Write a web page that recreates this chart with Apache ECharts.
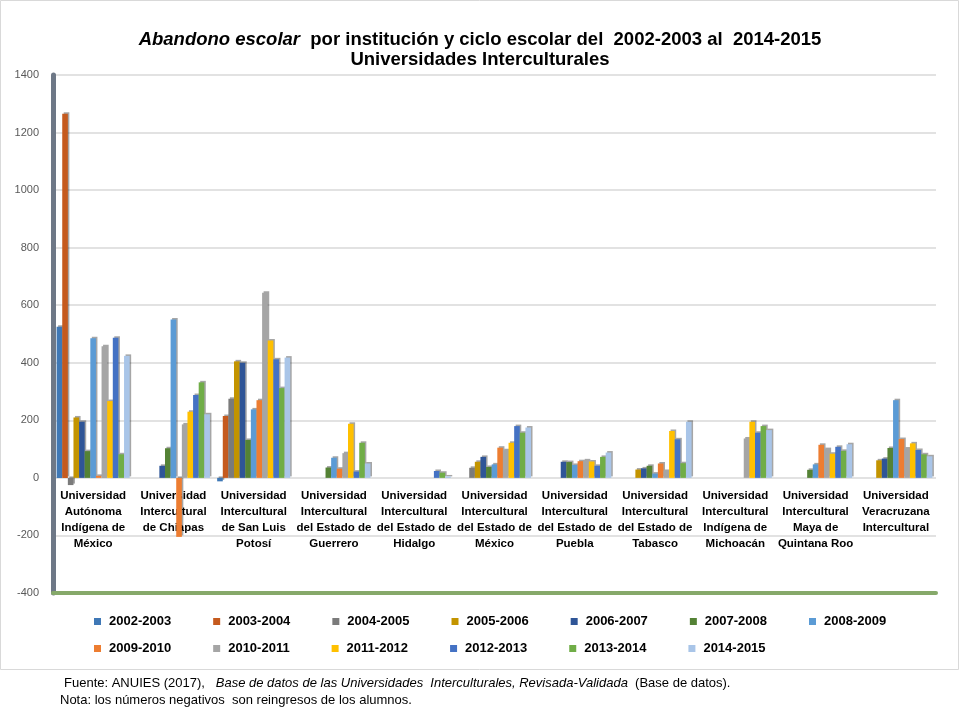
<!DOCTYPE html>
<html>
<head>
<meta charset="utf-8">
<script src="https://cdn.jsdelivr.net/npm/echarts@6/dist/echarts.min.js"></script>
<style>
html,body{margin:0;padding:0;background:#fff;}
#c{width:960px;height:720px;}
</style>
</head>
<body>
<div id="c"></div>
<script>
const categories = [
  'Universidad\nAutónoma\nIndígena de\nMéxico',
  'Universidad\nIntercultural\nde Chiapas',
  'Universidad\nIntercultural\nde San Luis\nPotosí',
  'Universidad\nIntercultural\ndel Estado de\nGuerrero',
  'Universidad\nIntercultural\ndel Estado de\nHidalgo',
  'Universidad\nIntercultural\ndel Estado de\nMéxico',
  'Universidad\nIntercultural\ndel Estado de\nPuebla',
  'Universidad\nIntercultural\ndel Estado de\nTabasco',
  'Universidad\nIntercultural\nIndígena de\nMichoacán',
  'Universidad\nIntercultural\nMaya de\nQuintana Roo',
  'Universidad\nVeracruzana\nIntercultural'
];
const seriesNames = ['2002-2003','2003-2004','2004-2005','2005-2006','2006-2007','2007-2008','2008-2009',
  '2009-2010','2010-2011','2011-2012','2012-2013','2013-2014','2014-2015'];
const s2002_2003 = [525, null, -12, null, null, null, null, null, null, null, null];
const s2003_2004 = [1265, null, 215, null, null, null, null, null, null, null, null];
const s2004_2005 = [-25, null, 275, null, null, 35, null, null, null, null, null];
const s2005_2006 = [210, null, 405, null, null, 56, null, 29, null, null, 61];
const s2006_2007 = [195, 42, 400, null, null, 73, 56, 33, null, null, 67];
const s2007_2008 = [93, 103, 132, 36, null, 38, 55, 42, null, 28, 104];
const s2008_2009 = [485, 550, 238, 70, null, 47, 45, 15, null, 47, 270];
const s2009_2010 = [7, -205, 270, 32, null, 105, 58, 50, null, 115, 135];
const s2010_2011 = [457, 186, 643, 86, null, 96, 61, 24, 137, 100, 102];
const s2011_2012 = [267, 230, 477, 188, null, 122, 57, 163, 195, 84, 120];
const s2012_2013 = [487, 288, 412, 22, 24, 180, 42, 134, 157, 108, 97];
const s2013_2014 = [82, 332, 312, 122, 18, 157, 73, 51, 180, 94, 82];
const s2014_2015 = [424, 221, 418, 50, 5, 175, 88, 195, 166, 117, 75];
const seriesValues = [s2002_2003, s2003_2004, s2004_2005, s2005_2006, s2006_2007, s2007_2008, s2008_2009,
  s2009_2010, s2010_2011, s2011_2012, s2012_2013, s2013_2014, s2014_2015];
const colors = ['#3f78b6','#c55a1e','#7b7b7b','#c39400','#2f5597','#548235','#5b9bd5',
  '#ed7d31','#a5a5a5','#ffc000','#4472c4','#70ad47','#a9c5e8'];
const yTicks = [-400, 1400, 200];

const FN = '"Liberation Sans Narrow", "Liberation Sans", Arial, sans-serif';
const chart = echarts.init(document.getElementById('c'), null, {renderer:'canvas'});

const series = seriesNames.map((n, i) => ({
  name: n,
  type: 'bar',
  data: seriesValues[i],
  barGap: '0%',
  barCategoryGap: '9%',
  itemStyle: {
    color: colors[i],
    shadowColor: 'rgba(0,0,0,0.35)',
    shadowOffsetX: 1.5,
    shadowOffsetY: -1.5,
    shadowBlur: 0
  },
  emphasis: {disabled: true}
}));

const legendCommon = {
  orient: 'horizontal',
  left: 89,
  itemWidth: 7,
  itemHeight: 7,
  itemGap: 42,
  icon: 'rect',
  selectedMode: false,
  textStyle: {fontFamily: FN, fontSize: 13, fontWeight: 'bold', color: '#000', padding: [0,0,0,3]}
};

chart.setOption({
  animation: false,
  backgroundColor: '#fff',
  color: colors,
  title: {
    left: 'center',
    top: 25,
    text: '{i|Abandono escolar}{n|  por institución y ciclo escolar del  2002-2003 al  2014-2015}\n{n|Universidades Interculturales}',
    textStyle: {
      rich: {
        i: {fontFamily: FN, fontSize: 18.5, fontWeight: 'bold', fontStyle: 'italic', color: '#000', lineHeight: 20},
        n: {fontFamily: FN, fontSize: 18.5, fontWeight: 'bold', color: '#000', lineHeight: 20}
      }
    }
  },
  legend: [
    Object.assign({}, legendCommon, {top: 610, data: seriesNames.slice(0, 7)}),
    Object.assign({}, legendCommon, {top: 637, data: seriesNames.slice(7)})
  ],
  grid: {left: 53, right: 24, top: 75, bottom: 127, containLabel: false},
  xAxis: {
    type: 'category',
    data: categories,
    axisLine: {onZero: false, lineStyle: {color: '#86a96a', width: 4}},
    axisTick: {show: false},
    axisLabel: {
      interval: 0, margin: -105, fontFamily: FN, fontSize: 11.5, fontWeight: 'bold',
      color: '#000', lineHeight: 16
    }
  },
  yAxis: {
    type: 'value',
    min: yTicks[0],
    max: yTicks[1],
    interval: yTicks[2],
    axisLine: {show: true, lineStyle: {color: '#6e7887', width: 5}},
    axisTick: {show: false},
    axisLabel: {fontFamily: '"Liberation Sans", Arial, sans-serif', fontSize: 11, color: '#595959', margin: 14,
      formatter: v => String(v)},
    splitLine: {lineStyle: {color: '#d9d9d9', width: 1.5}}
  },
  series: series,
  graphic: [
    {type: 'rect', shape: {x: 0.5, y: 0.5, width: 958, height: 669}, style: {fill: 'none', stroke: '#d9d9d9', lineWidth: 1}, silent: true},
    {type: 'text', left: 64, top: 677, style: {
      text: '{n|Fuente: ANUIES (2017),   }{i|Base de datos de las Universidades  Interculturales, Revisada-Validada}{n|  (Base de datos).}',
      rich: {
        n: {fontFamily: FN, fontSize: 13, fill: '#000'},
        i: {fontFamily: FN, fontSize: 13, fontStyle: 'italic', fill: '#000'}
      }
    }},
    {type: 'text', left: 60, top: 694, style: {
      text: 'Nota: los números negativos  son reingresos de los alumnos.',
      fontFamily: FN, fontSize: 13, fill: '#000'
    }}
  ]
});
</script>
</body>
</html>
